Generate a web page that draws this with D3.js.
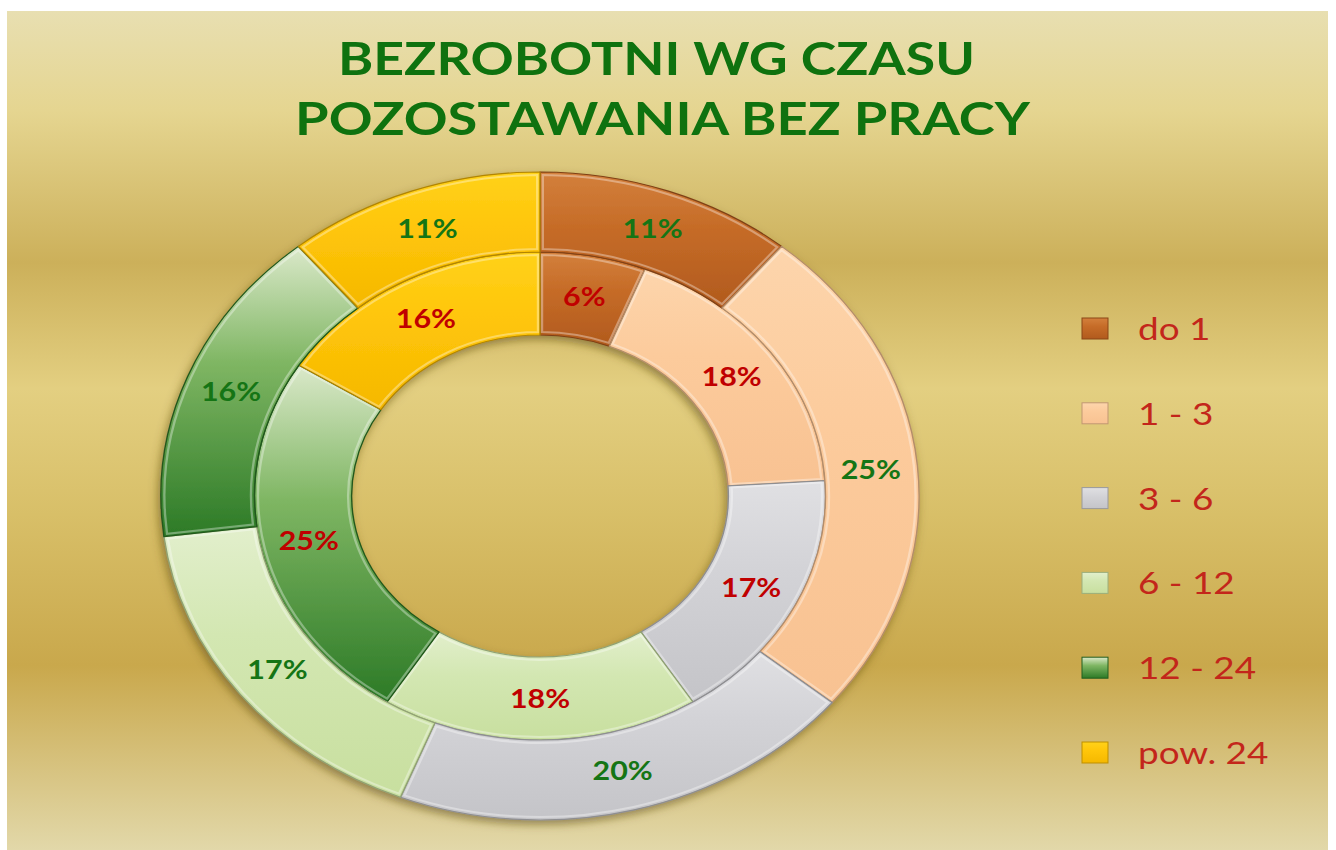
<!DOCTYPE html>
<html>
<head>
<meta charset="utf-8">
<script src="https://cdn.jsdelivr.net/npm/d3@7"></script>
<style>
  body { margin: 0; background: #ffffff; }
  svg { display: block; }
</style>
</head>
<body>
<div id="chart"></div>
<script>
// data (percent of unemployed, by months without work)
const categories = ['do 1', '1 - 3', '3 - 6', '6 - 12', '12 - 24', 'pow. 24'];
const innerValues = [6, 18, 17, 18, 25, 16];
const outerValues = [11, 25, 20, 17, 16, 11];
const titleLines = ['BEZROBOTNI WG CZASU', 'POZOSTAWANIA BEZ PRACY'];

const width = 1336, height = 850;
const sx = 1.17;               // picture is stretched sideways
const cx = 540, cy = 496;

// colour stops of every slice gradient (top -> bottom)
const palette = [
  ['#d3803c', '#c66c28', '#b15a1d'],
  ['#fdd5ac', '#fccb9c', '#f8c292'],
  ['#e0e0e3', '#d3d3d7', '#c4c4c8'],
  ['#e2efcc', '#d3e7b2', '#c8df9f'],
  ['#dbe9ca', '#7fb663', '#2c7a26'],
  ['#ffd21a', '#ffc60a', '#f5b800']
];

let svg = d3.select('#chart')
  .append('svg')
  .attr('width', width)
  .attr('height', height);

let defs = svg.append('defs');

let bg = defs.append('linearGradient')
  .attr('id', 'bg')
  .attr('x1', 0).attr('y1', 0).attr('x2', 0).attr('y2', 1);
[[0, '#e8dfb1'], [0.12, '#e5d590'], [0.3, '#ccb05a'], [0.45, '#e3cf81'],
 [0.6, '#d8bf68'], [0.78, '#c9a84c'], [1, '#e2d8a9']]
  .forEach(s => bg.append('stop').attr('offset', s[0]).attr('stop-color', s[1]));

palette.forEach((p, i) => {
  let g = defs.append('linearGradient')
    .attr('id', 'slice' + i)
    .attr('x1', 0).attr('y1', 0).attr('x2', 0).attr('y2', 1);
  g.append('stop').attr('offset', 0).attr('stop-color', p[0]);
  g.append('stop').attr('offset', 0.4).attr('stop-color', p[1]);
  g.append('stop').attr('offset', 1).attr('stop-color', p[2]);
});

let shadow = defs.append('filter')
  .attr('id', 'shadow')
  .attr('x', '-10%').attr('y', '-10%').attr('width', '120%').attr('height', '120%');
shadow.append('feDropShadow')
  .attr('dx', -2).attr('dy', 4).attr('stdDeviation', 4)
  .attr('flood-color', '#5a4a10').attr('flood-opacity', 0.55);

svg.append('rect')
  .attr('x', 7).attr('y', 11)
  .attr('width', width - 15).attr('height', height - 11)
  .attr('fill', 'url(#bg)');

// title, stretched to the widths of the picture
let titleBox = [[338, 75, 637], [295, 135, 735]];
svg.selectAll('text.title')
  .data(titleLines)
  .enter()
  .append('text')
  .attr('class', 'title')
  .attr('x', (d, i) => titleBox[i][0])
  .attr('y', (d, i) => titleBox[i][1])
  .attr('textLength', (d, i) => titleBox[i][2])
  .attr('lengthAdjust', 'spacingAndGlyphs')
  .style('font-family', 'Lato, sans-serif')
  .style('font-weight', 'bold')
  .style('font-size', '46px')
  .style('fill', '#0f720f')
  .text(d => d);

// rings
let radius = d3.scaleLinear().domain([0, 1, 2]).range([161, 244, 324]);

let pie = d3.pie().sort(null).value(d => d);

let rings = [
  { values: innerValues, r0: radius(0), r1: radius(1), labelColor: '#c00000' },
  { values: outerValues, r0: radius(1), r1: radius(2), labelColor: '#157515' }
];

let donut = svg.append('g')
  .attr('transform', 'translate(' + cx + ',' + cy + ') scale(' + sx + ',1)')
  .attr('filter', 'url(#shadow)');

rings.forEach(ring => {
  let arc = d3.arc().innerRadius(ring.r0).outerRadius(ring.r1);
  let arcs = pie(ring.values);

  donut.append('g')
    .selectAll('path')
    .data(arcs)
    .enter()
    .append('path')
    .attr('d', arc)
    .style('fill', (d, i) => 'url(#slice' + i + ')')
    .style('stroke', (d, i) => d3.color(palette[i][2]).darker(0.9))
    .style('stroke-width', 1.2)
    .style('stroke-linejoin', 'round');

  // thin inner highlight for the bevel look
  let arcHi = d3.arc().innerRadius(ring.r0 + 3).outerRadius(ring.r1 - 3);
  donut.append('g')
    .selectAll('path')
    .data(arcs.map(a => Object.assign({}, a, { padAngle: 0.012 })))
    .enter()
    .append('path')
    .attr('d', arcHi)
    .style('fill', 'none')
    .style('stroke', '#ffffff')
    .style('stroke-opacity', 0.35)
    .style('stroke-width', 2);

  svg.append('g')
    .selectAll('text')
    .data(arcs)
    .enter()
    .append('text')
    .attr('transform', d => {
      let c = arc.centroid(d);
      return 'translate(' + (cx + c[0] * sx) + ',' + (cy + c[1]) + ') scale(' + sx + ',1)';
    })
    .attr('text-anchor', 'middle')
    .attr('dy', '0.36em')
    .style('font-family', 'Lato, sans-serif')
    .style('font-weight', 'bold')
    .style('font-size', '26px')
    .style('fill', ring.labelColor)
    .text(d => d.data + '%');
});

// legend
let legendY = d3.scalePoint().domain(categories).range([328, 752]);

let legend = svg.append('g');

legend.selectAll('rect')
  .data(categories)
  .enter()
  .append('rect')
  .attr('x', 1082)
  .attr('y', d => legendY(d) - 10)
  .attr('width', 26)
  .attr('height', 21)
  .style('fill', (d, i) => 'url(#slice' + i + ')')
  .style('stroke', (d, i) => d3.color(palette[i][2]).darker(0.7))
  .style('stroke-width', 1);

legend.selectAll('text')
  .data(categories)
  .enter()
  .append('text')
  .attr('transform', d => 'translate(1138,' + (legendY(d) + 12) + ') scale(' + sx + ',1)')
  .style('font-family', 'Lato, sans-serif')
  .style('font-size', '31.5px')
  .style('fill', '#c3261b')
  .text(d => d);
</script>
</body>
</html>
